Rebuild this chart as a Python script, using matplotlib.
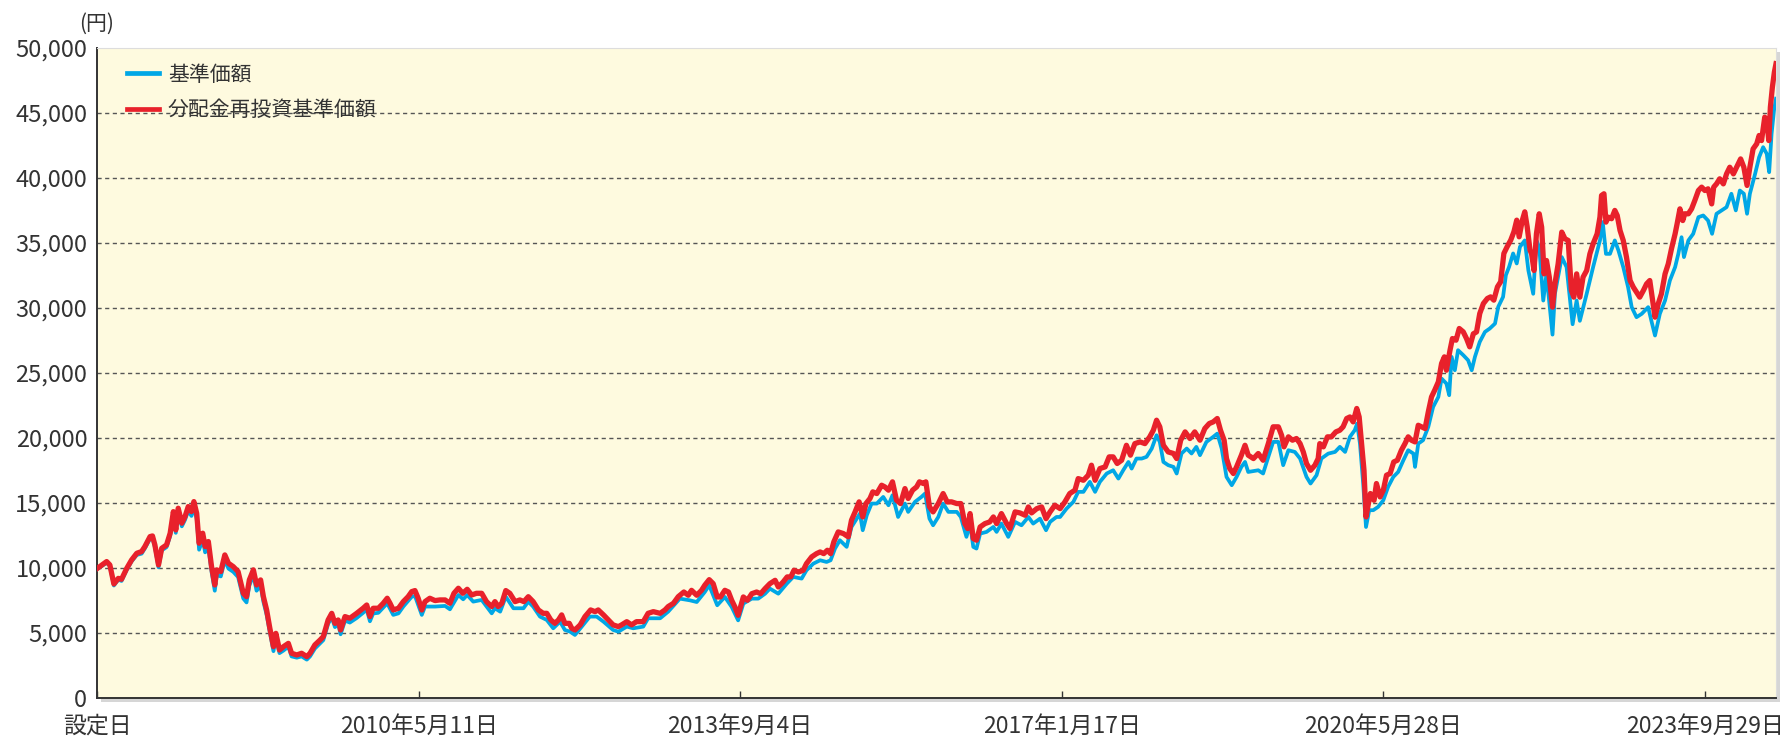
import matplotlib
matplotlib.use("Agg")
import matplotlib.pyplot as plt
from matplotlib.patches import Rectangle
from matplotlib.ticker import FuncFormatter, FixedLocator
import numpy as np

plt.rcParams['font.family'] = ['Noto Sans CJK JP', 'DejaVu Sans']

# x = trading-day index from the inception date (設定日)
x_tick_days = [0, 800, 1600, 2400, 3200, 4000]
x_tick_labels = ["設定日", "2010年5月11日", "2013年9月4日", "2017年1月17日", "2020年5月28日", "2023年9月29日"]
x_end_day = 4177
y_ticks = [0, 5000, 10000, 15000, 20000, 25000, 30000, 35000, 40000, 45000, 50000]

series_names = ["基準価額", "分配金再投資基準価額"]

# 分配金再投資基準価額 (red)
reinvested_nav = [
    (0,9950),(24,10490),(32,10230),(42,8770),(53,9200),(61,9130),(74,9970),(86,10610),(99,11130),(111,11260),(119,11640),(132,12410),(138,12460),(144,11770),(153,10230),(161,11510),(173,11770),(182,12670),(190,14330),(196,12920),(202,14590),(211,13440),(219,13950),(227,14720),(235,14330),(241,15100),(248,14200),(254,11900),(263,12670),(269,11640),(277,12030),(285,10100),(293,8690),(298,9850),(308,9720),(318,11000),(327,10360),(339,10100),(351,9720),(364,8050),(372,7790),(379,9080),(389,9850),(397,8690),(407,9080),(414,7790),(422,6770),(430,5360),(439,3950),(445,4970),(454,3690),(464,3950),(476,4200),(484,3440),(497,3310),(509,3440),(522,3180),(530,3440),(542,4080),(555,4460),(563,4720),(575,6000),(584,6510),(592,5740),(600,6000),(606,5230),(617,6260),(629,6130),(646,6510),(662,6900),(671,7150),(679,6260),(687,6900),(700,6900),
    (712,7280),(722,7670),(729,7280),(737,6770),(750,6900),(762,7410),(774,7790),(783,8180),(791,8260),(799,7670),(808,6770),(816,7410),(828,7670),(841,7490),(853,7540),(866,7540),(878,7280),(888,8050),(899,8440),(910,8050),(921,8360),(932,7920),(944,8050),(957,8050),(969,7410),(982,7030),(990,7410),(998,7030),(1007,7280),(1017,8260),(1027,8050),(1040,7410),(1052,7540),(1062,7410),(1073,7790),(1085,7410),(1098,6770),(1110,6510),(1119,6510),(1129,6000),(1139,5740),(1148,6000),(1156,6390),(1164,5740),(1175,5740),(1181,5360),(1189,5230),(1202,5620),(1214,6260),(1228,6770),(1239,6640),(1247,6770),(1260,6390),(1272,6000),(1284,5620),(1297,5490),(1305,5620),(1318,5870),(1330,5620),(1342,5870),(1359,5870),(1371,6510),(1384,6640),(1401,6510),(1413,6770),(1421,7030),(1434,7280),(1446,7790),
    (1460,8150),(1471,7900),(1479,8280),(1492,7900),(1504,8280),(1512,8670),(1523,9100),(1533,8790),(1543,7770),(1551,7770),(1562,8280),(1571,8150),(1579,7510),(1587,7000),(1595,6360),(1601,7000),(1608,7770),(1618,7510),(1629,8020),(1641,8150),(1651,8020),(1662,8410),(1674,8790),(1687,9050),(1695,8540),(1707,8920),(1717,9310),(1726,9310),(1734,9820),(1745,9690),(1757,9820),(1765,10330),(1778,10850),(1790,11100),(1799,11230),(1808,11100),(1817,11360),(1825,11100),(1833,12000),(1844,12770),(1857,12640),(1869,12390),(1877,13670),(1886,14310),(1896,15080),(1905,13920),(1913,14950),(1923,15340),(1930,15850),(1940,15720),(1952,16360),(1960,16230),(1969,15980),(1979,16620),(1989,15210),(1999,14950),(2010,16100),(2018,15340),(2029,15980),(2039,16230),(2046,16620),(2056,16490),(2062,16620),(2071,14700),(2080,14310),(2093,14950),(2105,15720),(2115,15080),(2126,15080),(2139,14950),(2149,14950),(2159,13410),(2166,13030),(2172,14180),
    (2180,12260),(2188,12130),(2197,13150),(2209,13410),(2221,13540),(2230,13920),(2238,13410),(2250,14180),(2263,13410),(2271,13030),(2284,14310),(2296,14230),(2309,14050),(2317,14690),(2325,14230),(2338,14560),(2350,14690),(2361,13790),(2371,14310),(2383,14820),(2396,14560),(2408,15080),(2420,15720),(2433,15980),(2441,16870),(2454,16740),(2466,17130),(2474,17900),(2483,16740),(2495,17640),(2508,17770),(2518,18540),(2528,18540),(2538,18030),(2549,18280),(2561,19430),(2571,18670),(2582,19560),(2595,19690),(2607,19560),(2619,20080),(2628,20590),(2636,21360),(2644,20850),(2653,19430),(2665,18920),(2678,18800),(2686,18410),(2696,19820),(2707,20460),(2719,19950),(2731,20460),(2744,19820),(2756,20720),(2767,21100),(2777,21230),(2787,21490),(2795,20590),(2804,19820),(2810,18410),(2818,17640),(2827,17260),(2835,17770),(2847,18670),(2856,19430),(2864,18670),(2877,18410),(2889,18800),
    (2901,18280),(2914,19560),(2926,20850),(2939,20850),(2947,20200),(2953,19310),(2964,20080),(2974,19820),(2984,19950),(2993,19560),(3001,18920),(3009,18030),(3019,17510),(3030,17900),(3038,18410),(3042,19560),(3051,19310),(3061,20080),(3071,20080),(3082,20460),(3092,20590),(3100,20850),(3109,21490),(3117,21610),(3125,21230),(3134,22260),(3140,21610),(3146,19560),(3152,17510),(3157,13920),(3163,14950),(3168,15720),(3177,15200),(3183,16490),(3192,15460),(3200,15970),(3208,17130),(3217,17260),(3226,18150),(3235,18280),(3245,19050),(3254,19560),(3262,20080),(3270,19820),(3279,19690),(3287,20970),(3295,20850),(3304,20720),(3312,22000),(3320,23150),(3328,23670),(3337,24310),(3345,25720),(3352,26230),(3357,25200),(3366,26740),(3372,27640),(3381,27510),(3389,28410),(3399,28150),(3407,27640),(3415,27000),(3424,28000),(3432,28150),(3440,29560),(3449,30330),(3459,30720),(3467,30840),(3475,30590),(3484,31610),(3492,32000),(3500,34180),(3508,34690),(3517,35200),(3525,35850),(3532,36740),(3538,35460),(3546,36740),(3552,37380),(3558,36230),(3565,34440),
    (3569,34150),(3575,32870),(3581,35690),(3588,37230),(3594,36200),(3600,32610),(3606,33640),(3613,32360),(3621,30050),(3627,31840),(3635,33380),(3644,35820),(3652,35310),(3660,35180),(3668,31330),(3674,30820),(3681,32610),(3689,30820),(3697,32360),(3706,32870),(3714,34150),(3722,34920),(3732,35690),(3739,36970),(3743,38640),(3749,38770),(3754,36590),(3760,36970),(3768,36850),(3776,37490),(3782,37100),(3789,35950),(3797,35180),(3805,33900),(3814,32100),(3822,31590),(3830,31200),(3838,30820),(3847,31330),(3855,31840),(3863,32100),(3870,30560),(3876,29280),(3884,30310),(3892,31080),(3901,32610),(3909,33380),(3917,34540),(3926,35690),(3931,36460),(3938,37610),(3945,36710),(3950,37230),(3959,37230),(3967,37610),(3975,38250),(3984,39020),(3992,39280),(4000,39020),(4008,39150),(4017,37990),(4022,39280),(4029,39530),(4037,39920),(4046,39530),(4054,40300),(4062,40810),(4071,40300),(4079,40810),(4089,41450),(4097,40810),(4105,39410),(4112,40810),(4120,42220),(4129,42610),(4135,43250),(4141,42860),(4149,44660),(4155,44150),(4159,42860),(4163,45430),(4168,46970),(4173,48130),(4177,48770),
]

# 基準価額 (blue)
nav = [
    (0,9900),(24,10400),(32,10150),(42,8650),(53,9100),(61,9000),(74,9850),(86,10500),(99,11000),(111,11100),(119,11500),(132,12250),(138,12300),(144,11600),(153,10050),(161,11350),(173,11600),(182,12450),(190,14050),(196,12700),(202,14300),(211,13200),(219,13700),(227,14400),(235,14000),(241,14600),(248,13800),(254,11400),(263,12200),(269,11200),(277,11600),(285,9700),(293,8250),(298,9450),(308,9350),(318,10600),(327,9950),(339,9700),(351,9300),(364,7650),(372,7350),(379,8650),(389,9450),(397,8250),(407,8650),(414,7400),(422,6400),(430,5050),(439,3600),(445,4650),(454,3450),(464,3650),(476,3950),(484,3200),(497,3100),(509,3200),(522,2950),(530,3200),(542,3800),(555,4200),(563,4450),(575,5700),(584,6200),(592,5450),(600,5700),(606,4900),(617,5950),(629,5800),(646,6150),(662,6550),(671,6800),(679,5900),(687,6500),(700,6550),
    (722,7280),(737,6390),(750,6510),(762,7030),(783,7790),(791,7850),(808,6390),(816,7030),(841,7030),(866,7080),(878,6820),(899,7920),(911,7590),(921,7920),(936,7410),(957,7540),(982,6510),(990,6900),(1003,6640),(1017,7790),(1036,6900),(1061,6900),(1073,7410),(1085,7030),(1102,6260),(1119,6000),(1135,5360),(1152,5870),(1164,5230),(1177,5100),(1189,4850),(1206,5490),(1226,6260),(1243,6260),(1260,5870),(1284,5230),(1297,5100),(1318,5490),(1334,5360),(1359,5490),(1371,6130),(1401,6130),(1421,6640),
    (1450,7640),(1475,7510),(1492,7380),(1512,8150),(1523,8670),(1543,7130),(1562,7770),(1579,7000),(1595,5970),(1608,7260),(1629,7640),(1645,7640),(1662,8020),(1674,8410),(1695,8020),(1716,8790),(1732,9310),(1753,9180),(1765,9820),(1782,10330),(1799,10590),(1815,10460),(1825,10590),(1836,11490),(1848,12130),(1865,11620),(1877,13150),(1890,13790),(1898,14180),(1905,12900),(1915,14050),(1927,14950),(1940,14950),(1956,15460),(1969,14820),(1979,15590),(1993,13920),(2010,14950),(2018,14310),(2035,15080),(2051,15460),(2060,15720),(2071,13790),(2080,13280),(2093,13920),(2105,14950),(2118,14310),(2139,14310),(2149,13920),(2163,12390),(2172,13410),
    (2180,11620),(2188,11490),(2197,12640),(2213,12770),(2230,13150),(2238,12770),(2250,13410),(2267,12390),(2284,13540),(2300,13280),(2317,13920),(2329,13410),(2346,13790),(2361,12900),(2371,13540),(2387,13920),(2396,13920),(2412,14560),(2429,15080),(2441,15850),(2454,15850),(2470,16620),(2483,15850),(2495,16620),(2512,17260),(2528,17510),(2541,16870),(2553,17510),(2566,18150),(2574,17640),(2586,18410),(2599,18410),(2611,18540),(2624,19180),(2636,20200),(2644,19690),(2653,18150),(2665,17900),(2678,17770),(2686,17260),(2698,18800),(2711,19180),(2723,18800),(2735,19310),(2744,18670),(2760,19690),(2777,20080),(2787,20330),(2798,19180),(2810,17000),(2823,16360),(2835,17000),(2847,17770),(2856,18150),(2864,17380),
    (2889,17510),(2901,17260),(2914,18540),(2926,19690),(2939,19690),(2951,17900),(2964,19050),(2980,18920),(2993,18410),(3009,17000),(3019,16490),(3034,17130),(3046,18410),(3063,18790),(3080,18920),(3092,19310),(3105,18920),(3117,20080),(3129,20590),(3135,21100),(3142,19560),(3150,16490),(3157,13150),(3165,14440),(3175,14440),(3187,14690),(3200,15200),(3212,16230),(3225,17000),(3237,17380),(3250,18280),(3262,19050),(3275,18790),(3279,17770),(3287,19560),(3299,19820),(3312,20850),(3324,22380),(3337,23150),(3345,24560),(3357,24180),(3364,23280),(3370,26230),(3378,25200),(3386,26740),(3399,26360),(3411,25970),(3420,25200),(3428,26230),(3440,27380),(3453,28150),(3465,28410),(3478,28790),(3486,30080),(3498,30840),(3505,32510),(3513,33150),(3523,34180),(3532,33410),(3540,34690),
    (3552,35180),(3561,32870),(3573,31080),(3581,35180),(3588,34670),(3598,30560),(3606,32610),(3621,27940),(3627,31080),(3644,33900),(3656,33130),(3671,28740),(3681,30560),(3689,29000),(3706,31080),(3722,33130),(3739,35180),(3746,36590),(3754,34150),(3764,34150),(3776,35180),(3785,34410),(3797,33130),(3809,31590),(3818,30050),(3830,29280),(3843,29540),(3859,30050),(3867,29000),(3876,27870),(3888,29540),(3901,30560),(3913,32100),(3926,33130),(3934,34150),(3942,35430),(3948,33900),(3959,35180),(3971,35690),(3984,36970),(3996,37100),(4008,36710),(4018,35690),(4029,37230),(4042,37490),(4054,37740),(4066,38770),(4077,37490),(4087,39020),(4097,38770),(4105,37230),(4112,38770),(4125,40300),(4135,41580),(4145,42350),(4154,41840),(4160,40430),(4166,43380),(4172,45180),(4177,46080),
]

BLUE = '#00A7E6'
RED = '#E8212B'
BG = '#FEFADF'
TXT = '#333333'

W, H = 1782, 737
fig = plt.figure(figsize=(W / 100, H / 100), dpi=100)
fig.patch.set_facecolor('white')

left, right, bottom, top = 97 / W, 1776 / W, 1 - 698 / H, 1 - 47.7 / H
ax = fig.add_axes([left, bottom, right - left, top - bottom])
ax.set_facecolor(BG)

# soft drop shadow
shadow = Rectangle((left + 4 / W, bottom - 4 / H), right - left, top - bottom,
                   transform=fig.transFigure, facecolor='#d6d6d6', edgecolor='none', zorder=-2)
fig.add_artist(shadow)

bx, by = zip(*nav)
rx, ry = zip(*reinvested_nav)
ax.plot(bx, by, color=BLUE, lw=2.7, label=series_names[0], zorder=3, solid_joinstyle='round')
ax.plot(rx, ry, color=RED, lw=3.8, label=series_names[1], zorder=4, solid_joinstyle='round')

ax.set_xlim(0, x_end_day)
ax.set_ylim(0, 50000)

ax.yaxis.set_major_locator(FixedLocator(y_ticks))
ax.yaxis.set_major_formatter(FuncFormatter(lambda v, p: f"{int(v):,}"))
ax.set_xticks(x_tick_days)
ax.set_xticklabels(x_tick_labels)

for yv in y_ticks[1:-1]:
    ax.axhline(yv, color='#555555', lw=1.0, ls=(0, (3, 2.5)), zorder=1)

ax.tick_params(axis='y', length=0, pad=7, labelsize=17, labelcolor=TXT)
ax.tick_params(axis='x', direction='in', length=5, width=1, color='#333333', pad=12,
               labelsize=16.5, labelcolor=TXT)

for s in ['left', 'bottom']:
    ax.spines[s].set_color('#333333')
    ax.spines[s].set_linewidth(1.4)
for s in ['top', 'right']:
    ax.spines[s].set_color('#dddddd')
    ax.spines[s].set_linewidth(0.8)

leg = ax.legend(loc='upper left', bbox_to_anchor=(0.013, 0.9885), frameon=False,
                fontsize=15, handlelength=1.55, handletextpad=0.4, labelspacing=0.66,
                borderaxespad=0)
for t in leg.get_texts():
    t.set_color(TXT)
for h in leg.get_lines():
    h.set_linewidth(3.4)

fig.text(left, 1 - 24 / H, "(円)", ha='center', va='center', fontsize=15, color=TXT)

fig.savefig('out.png', dpi=100, facecolor='white')
